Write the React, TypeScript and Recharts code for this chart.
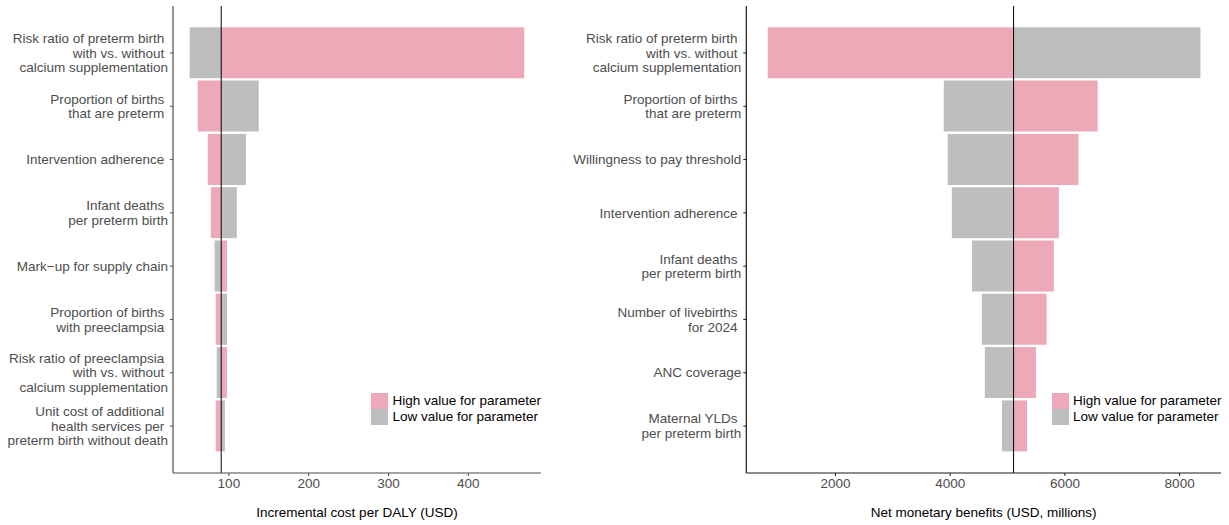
import React from "react";
import { BarChart, Bar, XAxis, YAxis, ReferenceLine, Label } from "recharts";

// ---------- data ----------
const leftCategories = [
  "Risk ratio of preterm birth \nwith vs. without \ncalcium supplementation",
  "Proportion of births \nthat are preterm ",
  "Intervention adherence ",
  "Infant deaths \nper preterm birth",
  "Mark\u2212up for supply chain",
  "Proportion of births \nwith preeclampsia ",
  "Risk ratio of preeclampsia \nwith vs. without \ncalcium supplementation",
  "Unit cost of additional \nhealth services per \npreterm birth without death",
];
const leftLow = [50.9, 137.4, 121.4, 110, 82.1, 97.6, 84.8, 95];
const leftHigh = [470, 61, 73.5, 77.4, 97.6, 83.5, 97.6, 83.5];
const leftBase = 90.4;
const leftTicks = [100, 200, 300, 400];
const leftDomain = [30, 491];
const leftTitle = "Incremental cost per DALY (USD)";

const rightCategories = [
  "Risk ratio of preterm birth \nwith vs. without \ncalcium supplementation",
  "Proportion of births \nthat are preterm",
  "Willingness to pay threshold",
  "Intervention adherence ",
  "Infant deaths \nper preterm birth",
  "Number of livebirths \nfor 2024 ",
  "ANC coverage",
  "Maternal YLDs \nper preterm birth",
];
const rightLow = [8363, 3888, 3956, 4029, 4380, 4551, 4604, 4901];
const rightHigh = [818, 6572, 6237, 5895, 5806, 5681, 5494, 5339];
const rightBase = 5105;
const rightTicks = [2000, 4000, 6000, 8000];
const rightDomain = [445, 8721];
const rightTitle = "Net monetary benefits (USD, millions)";

const legendLabels = ["High value for parameter", "Low value for parameter"];

// ---------- style ----------
const PINK = "#EEA9B8";
const GRAY = "#BEBEBE";
const FONT = "'Liberation Sans', Arial, Helvetica, sans-serif";
const FS = 13.5;
const LH = 14.7;
const TICK_COLOR = "#4d4d4d";

const YTick = (props: any) => {
  const { x, y, payload } = props;
  const lines: string[] = String(payload.value).split("\n");
  const y0 = y - ((lines.length - 1) * LH) / 2;
  return (
    <text
      x={x}
      y={y0}
      textAnchor="end"
      fontSize={FS}
      fill={TICK_COLOR}
      fontFamily={FONT}
      xmlSpace="preserve"
      style={{ whiteSpace: "pre" }}
    >
      {lines.map((l, i) => (
        <tspan key={i} x={x} y={y0 + i * LH} dy="0.35em">
          {l}
        </tspan>
      ))}
    </text>
  );
};

const titleContent = (text: string) => (props: any) => {
  const vb = props.viewBox || {};
  return (
    <text
      x={vb.x + vb.width / 2}
      y={vb.y + 44}
      textAnchor="middle"
      fontSize={FS}
      fill="#000"
      fontFamily={FONT}
    >
      {text}
    </text>
  );
};

type PanelProps = {
  categories: string[];
  low: number[];
  high: number[];
  base: number;
  ticks: number[];
  domain: number[];
  title: string;
  width: number;
  yAxisWidth: number;
  rightMargin: number;
  axisColor: string;
};

const Panel = (p: PanelProps) => {
  const data = p.categories.map((name, i) => ({ name, low: p.low[i], high: p.high[i] }));
  const lowRange = (d: any) => [Math.min(p.base, d.low), Math.max(p.base, d.low)];
  const highRange = (d: any) => [Math.min(p.base, d.high), Math.max(p.base, d.high)];
  return (
    <BarChart
      width={p.width}
      height={525}
      data={data}
      layout="vertical"
      margin={{ top: 6, right: p.rightMargin, bottom: 0, left: 0 }}
      barGap={-51}
    >
      <XAxis
        type="number"
        domain={p.domain}
        ticks={p.ticks}
        allowDataOverflow
        height={52}
        tickSize={3}
        tickMargin={2.5}
        tick={{ fontSize: FS, fill: TICK_COLOR, fontFamily: FONT }}
        tickLine={{ stroke: p.axisColor }}
        axisLine={{ stroke: p.axisColor, strokeWidth: 1.2 }}
      >
        <Label content={titleContent(p.title)} />
      </XAxis>
      <YAxis
        type="category"
        dataKey="name"
        width={p.yAxisWidth}
        padding={{ top: 20.3, bottom: 20.3 }}
        interval={0}
        tickSize={3}
        tickMargin={2}
        tick={<YTick />}
        tickLine={{ stroke: p.axisColor }}
        axisLine={{ stroke: p.axisColor, strokeWidth: 1.2 }}
      />
      <Bar dataKey={lowRange} name="low" fill={GRAY} barSize={51} isAnimationActive={false} />
      <Bar dataKey={highRange} name="high" fill={PINK} barSize={51} isAnimationActive={false} />
      <ReferenceLine x={p.base} stroke="#000" strokeWidth={1} />
    </BarChart>
  );
};

const LegendBox = ({ left, top }: { left: number; top: number }) => (
  <div style={{ position: "absolute", left, top, fontFamily: FONT, fontSize: FS, color: "#000" }}>
    {[PINK, GRAY].map((c, i) => (
      <div key={i} style={{ display: "flex", alignItems: "center", height: 16 }}>
        <div style={{ width: 17, height: 16, background: c, marginRight: 4.5 }} />
        <span style={{ lineHeight: "16px", whiteSpace: "nowrap" }}>{legendLabels[i]}</span>
      </div>
    ))}
  </div>
);

export default function App() {
  return (
    <div style={{ position: "absolute", left: 0, top: 0, width: 1229, height: 525, background: "#fff" }}>
      <div style={{ position: "absolute", left: 0, top: 0 }}>
        <Panel
          categories={leftCategories}
          low={leftLow}
          high={leftHigh}
          base={leftBase}
          ticks={leftTicks}
          domain={leftDomain}
          title={leftTitle}
          width={560}
          yAxisWidth={173}
          rightMargin={19}
          axisColor="#4d4d4d"
        />
      </div>
      <div style={{ position: "absolute", left: 560, top: 0 }}>
        <Panel
          categories={rightCategories}
          low={rightLow}
          high={rightHigh}
          base={rightBase}
          ticks={rightTicks}
          domain={rightDomain}
          title={rightTitle}
          width={669}
          yAxisWidth={186.3}
          rightMargin={8}
          axisColor="#1a1a1a"
        />
      </div>
      <LegendBox left={371} top={393} />
      <LegendBox left={1051.5} top={393} />
    </div>
  );
}
